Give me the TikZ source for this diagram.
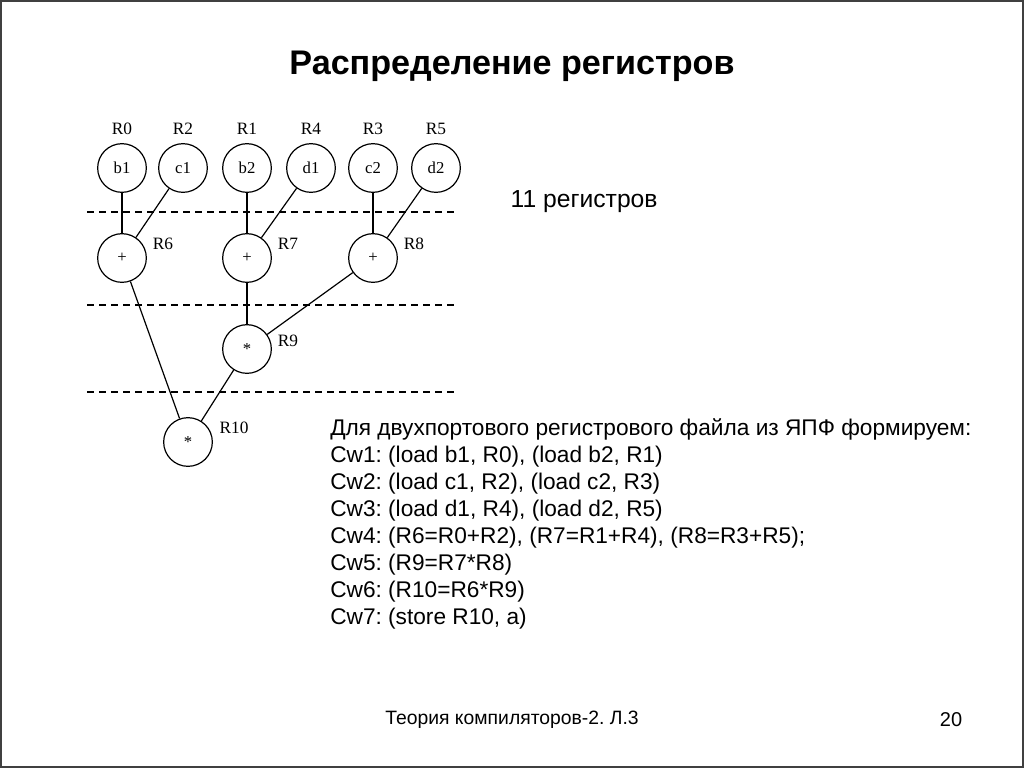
\documentclass[tikz,border=0pt]{standalone}
\usepackage{fontspec}
\setmainfont{Liberation Serif}
\newfontfamily\slidefont{Liberation Sans}
\usetikzlibrary{positioning}
\frenchspacing

\tikzset{
  vertex/.style={circle, draw, line width=0.9pt, minimum size=36.5pt, inner sep=0pt, font=\fontsize{12.5}{14}\selectfont},
  reglabel/.style={font=\fontsize{13}{15}\selectfont, inner sep=1pt, text height=9pt, text depth=0pt},
  edge/.style={line width=0.9pt},
  levelline/.style={line width=1.2pt, dash pattern=on 5.5pt off 3.5pt}
}

\begin{document}
\begin{tikzpicture}[x=0.75pt, y=-0.75pt]
        % Frame of the slide
        \useasboundingbox (0,0) rectangle (1024,768);
        \draw[line width=1.5pt, black!75] (1,1) rectangle (1023,767);

        % Title
        \node[font=\slidefont\bfseries\fontsize{25.6}{30}\selectfont] (title) at (512,66) {Распределение регистров};

        % Leaves with their registers
        \node[vertex, label={[reglabel, label distance=5pt]above:R0}] (b1) at (122,168) {b1};
        \node[vertex, label={[reglabel, label distance=5pt]above:R2}] (c1) at (183,168) {c1};
        \node[vertex, label={[reglabel, label distance=5pt]above:R1}] (b2) at (247,168) {b2};
        \node[vertex, label={[reglabel, label distance=5pt]above:R4}] (d1) at (311,168) {d1};
        \node[vertex, label={[reglabel, label distance=5pt]above:R3}] (c2) at (373,168) {c2};
        \node[vertex, label={[reglabel, label distance=5pt]above:R5}] (d2) at (436,168) {d2};

        % Operations
        \node[vertex] (p6) at (122,258) {+};
        \node[vertex] (p7) at (247,258) {+};
        \node[vertex] (p8) at (373,258) {+};
        \node[vertex] (m9) at (247,349) {*};
        \node[vertex] (m10) at (188,442) {*};

        % Registers of the results
        \node[reglabel] (r6) at (163,243) {R6};
        \node[reglabel] (r7) at (288,243) {R7};
        \node[reglabel] (r8) at (414,243) {R8};
        \node[reglabel] (r9) at (288,340) {R9};
        \node[reglabel] (r10) at (234,427) {R10};

        % Level separators
        \draw[levelline] (87,212) -- (458,212);
        \draw[levelline] (87,305) -- (458,305);
        \draw[levelline] (87,392) -- (458,392);

        % Edges of the tree
        \draw[edge] (b1) -- (p6);
        \draw[edge] (c1) -- (p6);
        \draw[edge] (b2) -- (p7);
        \draw[edge] (d1) -- (p7);
        \draw[edge] (c2) -- (p8);
        \draw[edge] (d2) -- (p8);
        \draw[edge] (p7) -- (m9);
        \draw[edge] (p8) -- (m9);
        \draw[edge] (p6) -- (m10);
        \draw[edge] (m9) -- (m10);

        % Texts
        \node[font=\slidefont\fontsize{18.5}{22}\selectfont, anchor=west] (count) at (506,202) {11 регистров};
        \node[font=\slidefont\fontsize{17}{20.3}\selectfont, anchor=north west, align=left, inner sep=0pt] (plan) at (330,418)
          {Для двухпортового регистрового файла из ЯПФ формируем:\\
           Cw1: (load b1, R0), (load b2, R1)\\
           Cw2: (load c1, R2), (load c2, R3)\\
           Cw3: (load d1, R4), (load d2, R5)\\
           Cw4: (R6=R0+R2), (R7=R1+R4), (R8=R3+R5);\\
           Cw5: (R9=R7*R8)\\
           Cw6: (R10=R6*R9)\\
           Cw7: (store R10, a)};

        % Footer
        \node[font=\slidefont\fontsize{14.5}{17}\selectfont] (footer) at (512,720) {Теория компиляторов-2. Л.3};
        \node[font=\slidefont\fontsize{15}{17}\selectfont] (page) at (951,720) {20};
\end{tikzpicture}
\end{document}
